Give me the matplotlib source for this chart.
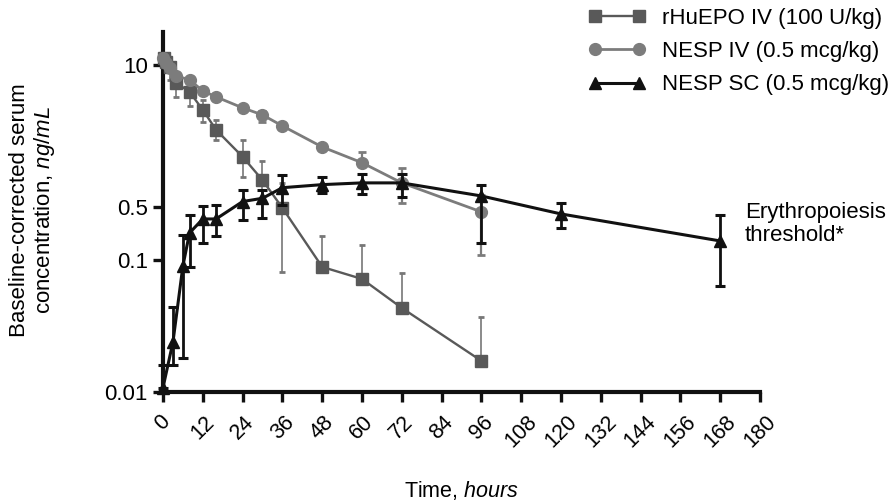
import numpy as np
import matplotlib
matplotlib.use("Agg")
import matplotlib.pyplot as plt
from matplotlib.lines import Line2D

plt.rcParams['font.family'] = ['Liberation Sans', 'DejaVu Sans']
plt.rcParams['mathtext.fontset'] = 'custom'
plt.rcParams['mathtext.rm'] = 'Liberation Sans'
plt.rcParams['mathtext.it'] = 'Liberation Sans:italic'

# ---------------- data ----------------
epo_t = [0.25, 1, 2, 4, 8, 12, 16, 24, 30, 36, 48, 60, 72, 96]
epo_v = [11.6, 10.65, 9.59, 6.84, 5.66, 3.87, 2.54, 1.44, 0.88, 0.485, 0.0885, 0.0718, 0.0433, 0.0172]
epo_lo = [11.6, 10.65, 7.29, 5.09, 4.21, 3.00, 2.06, 0.94, 0.358, 0.081, 0.0885, 0.0718, 0.0433, 0.0172]
epo_hi = [11.6, 10.65, 9.59, 6.84, 5.66, 4.78, 3.13, 2.06, 1.32, 0.83, 0.207, 0.158, 0.0798, 0.037]

iv_t = [0.08, 1, 2, 4, 8, 12, 16, 24, 30, 36, 48, 60, 72, 96]
iv_v = [11.6, 10.4, 9.39, 7.93, 7.29, 5.78, 5.09, 4.04, 3.48, 2.76, 1.77, 1.27, 0.83, 0.43]
iv_lo = [11.6, 10.4, 9.39, 7.93, 7.29, 5.78, 5.09, 4.04, 3.00, 2.76, 1.77, 1.27, 0.54, 0.116]
iv_hi = [11.6, 10.4, 9.39, 7.93, 7.29, 5.78, 5.09, 4.04, 3.79, 2.76, 1.77, 1.60, 1.14, 0.64]

sc_t = [0, 3, 6, 8, 12, 16, 24, 30, 36, 48, 60, 72, 96, 120, 168]
sc_v = [0.0108, 0.0239, 0.090, 0.227, 0.347, 0.347, 0.56, 0.60, 0.75, 0.80, 0.83, 0.83, 0.63, 0.404, 0.178]
sc_lo = [0.0108, 0.016, 0.0181, 0.0885, 0.168, 0.207, 0.337, 0.358, 0.52, 0.67, 0.66, 0.62, 0.168, 0.264, 0.0636]
sc_hi = [0.016, 0.044, 0.214, 0.392, 0.51, 0.52, 0.72, 0.72, 0.98, 0.94, 1.00, 1.00, 0.80, 0.54, 0.392]

labels = ['rHuEPO IV (100 U/kg)', 'NESP IV (0.5 mcg/kg)', 'NESP SC (0.5 mcg/kg)']
xticks = list(range(0, 181, 12))
yticks = [0.01, 0.1, 0.5, 10]
yticklabels = ['0.01', '0.1', '0.5', '10']

# piecewise-logarithmic axis, as in the original figure
LOGK = [-3.0, -2.0, -1.0, np.log10(0.5), 1.0, 2.0]
PIXK = [-132.0, 0.0, 132.0, 185.0, 327.0, 436.1]


def fwd(v):
    v = np.clip(np.asarray(v, dtype=float), 1e-9, None)
    return np.interp(np.log10(v), LOGK, PIXK)


def inv(p):
    return 10 ** np.interp(np.asarray(p, dtype=float), PIXK, LOGK)


def yerr(v, lo, hi):
    v = np.array(v); lo = np.array(lo); hi = np.array(hi)
    return [v - lo, hi - v]


fig = plt.figure(figsize=(8.95, 5.04), dpi=100)
ax = fig.add_axes([163 / 895, 1 - 392 / 504, (760 - 163) / 895, (392 - 32) / 504])
ax.set_yscale('function', functions=(fwd, inv))

c_epo = '#595959'
c_iv = '#7c7c7c'
c_sc = '#111111'

styles = [
    dict(color=c_epo, lw=1.7, marker='s', ms=8, mfc=c_epo, mec=c_epo),
    dict(color=c_iv, lw=2.0, marker='o', ms=8.5, mfc=c_iv, mec=c_iv),
    dict(color=c_sc, lw=2.2, marker='^', ms=9, mfc=c_sc, mec=c_sc),
]

ax.errorbar(epo_t, epo_v, yerr=yerr(epo_v, epo_lo, epo_hi), ecolor='#777777', elinewidth=1.2,
            capsize=2, capthick=2, clip_on=False, zorder=3, **styles[0])
ax.errorbar(iv_t, iv_v, yerr=yerr(iv_v, iv_lo, iv_hi), ecolor=c_iv, elinewidth=1.6,
            capsize=3, capthick=2, clip_on=False, zorder=3, **styles[1])
ax.errorbar(sc_t, sc_v, yerr=yerr(sc_v, sc_lo, sc_hi), ecolor=c_sc, elinewidth=2.0,
            capsize=3.5, capthick=2.2, clip_on=False, zorder=4, **styles[2])

ax.set_xlim(0, 180)
ax.set_ylim(0.01, 20)
ax.set_xticks(xticks)
ax.set_xticklabels([str(t) for t in xticks], rotation=45, ha='center', va='top',
                   fontsize=15.5)
ax.set_yticks(yticks)
ax.set_yticklabels(yticklabels, fontsize=16)
ax.yaxis.set_minor_locator(matplotlib.ticker.NullLocator())
ax.xaxis.set_minor_locator(matplotlib.ticker.NullLocator())

for s in ['top', 'right']:
    ax.spines[s].set_visible(False)
for s in ['left', 'bottom']:
    ax.spines[s].set_linewidth(3)
    ax.spines[s].set_color('#111111')
ax.tick_params(axis='both', direction='out', length=7, width=2.4, color='#111111')
ax.tick_params(axis='y', pad=4)
ax.tick_params(axis='x', pad=7)

ax.set_xlabel('Time, $\\mathit{hours}$', fontsize=15.5)
ax.xaxis.set_label_coords(0.5, -0.243)
ax.set_ylabel('Baseline-corrected serum\nconcentration, $\\mathit{ng/mL}$', fontsize=16,
              linespacing=1.1)
ax.yaxis.set_label_coords(-0.178, 0.506)

ax.text(0.975, 0.466, 'Erythropoiesis\nthreshold*', transform=ax.transAxes,
        fontsize=16, ha='left', va='center', linespacing=1.1, clip_on=False)

handles = [Line2D([0], [0], **st) for st in styles]
fig.legend(handles, labels, loc='upper left', bbox_to_anchor=(588 / 895, 1 - 8 / 504),
           frameon=False, fontsize=16, numpoints=2, handlelength=2.6,
           handletextpad=0.75, labelspacing=0.55, borderpad=0, borderaxespad=0)

fig.savefig('out.png', dpi=100)
